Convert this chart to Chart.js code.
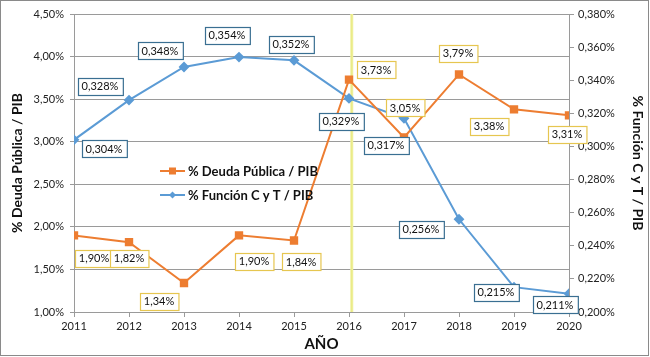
<!DOCTYPE html>
<html><head><meta charset="utf-8">
<script src="https://cdn.jsdelivr.net/npm/chart.js@4"></script>
<style>html,body{margin:0;padding:0;background:#fff;}canvas{display:block}</style>
</head><body>
<canvas id="c" width="650" height="357"></canvas>
<script>
// ---- data ----
const years = [2011, 2012, 2013, 2014, 2015, 2016, 2017, 2018, 2019, 2020];
const deudaPIB = [1.90, 1.82, 1.34, 1.90, 1.84, 3.73, 3.05, 3.79, 3.38, 3.31];
const funcionPIB = [0.304, 0.328, 0.348, 0.354, 0.352, 0.329, 0.317, 0.256, 0.215, 0.211];
const leftRange = [1.00, 4.50, 0.50];
const rightRange = [0.200, 0.380, 0.020];
const markerYear = 2016.05;
const seriesNames = ['% Deuda Pública / PIB', '% Función C y T / PIB'];

// ---- style ----
const ORANGE = '#ED7D31', BLUE = '#5B9BD5';
const deudaLabelOffsets = [[20,23],[0,16],[-25,18],[15,26],[7,21],[27,-10],[1,-30],[-1,-21],[-25,17],[-2,19]];
const funcionLabelOffsets = [[30,9],[-29,-14],[-24,-16],[-12,-22],[-3,-16],[-8,23],[-18,27],[-38,10],[-18,5],[-14,11]];
const FONT = 'Lato, "Liberation Sans", sans-serif';
Chart.defaults.font.family = FONT;
Chart.defaults.color = '#222';

const fmt = (v, d) => v.toFixed(d).replace('.', ',') + '%';

const decor = {
  id: 'decor',
  beforeDatasetsDraw(chart) {
    const {ctx, chartArea: a, scales: {x}} = chart;
    const px = x.getPixelForValue(markerYear);
    ctx.save();
    ctx.strokeStyle = '#F0F0A0';
    ctx.lineWidth = 3;
    ctx.beginPath(); ctx.moveTo(px, a.top); ctx.lineTo(px, a.bottom); ctx.stroke();
    ctx.strokeStyle = '#E8EA80';
    ctx.lineWidth = 1;
    ctx.beginPath(); ctx.moveTo(px, a.top); ctx.lineTo(px, a.bottom); ctx.stroke();
    ctx.restore();
  },
  afterDatasetsDraw(chart) {
    const ctx = chart.ctx;
    const defs = [
      {ds: 0, off: deudaLabelOffsets, border: '#E6C650', d: 2},
      {ds: 1, off: funcionLabelOffsets, border: '#3A6F92', d: 3}
    ];
    ctx.save();
    ctx.font = '11px ' + FONT;
    ctx.textAlign = 'center';
    ctx.textBaseline = 'middle';
    defs.forEach(def => {
      const meta = chart.getDatasetMeta(def.ds);
      const vals = chart.data.datasets[def.ds].data;
      meta.data.forEach((pt, i) => {
        const txt = fmt(vals[i].y, def.d);
        const cx = pt.x + def.off[i][0], cy = pt.y + def.off[i][1];
        const w = ctx.measureText(txt).width + 8, h = 17;
        const l = Math.round(cx - w / 2) + 0.5, t = Math.round(cy - h / 2) + 0.5;
        ctx.fillStyle = '#fff';
        ctx.fillRect(l, t, w, h);
        ctx.strokeStyle = def.border; ctx.lineWidth = 1.2;
        ctx.strokeRect(l, t, w, h);
        ctx.fillStyle = '#111';
        ctx.fillText(txt, cx, cy + 0.5);
      });
    });
    // legend
    const rows = [{c: ORANGE, s: 'rect', y: 171}, {c: BLUE, s: 'diamond', y: 195}];
    ctx.font = 'bold 13px ' + FONT;
    ctx.textAlign = 'left';
    rows.forEach((r, i) => {
      ctx.strokeStyle = r.c; ctx.lineWidth = 2;
      ctx.beginPath(); ctx.moveTo(160, r.y); ctx.lineTo(185, r.y); ctx.stroke();
      ctx.fillStyle = r.c;
      if (r.s === 'rect') ctx.fillRect(169, r.y - 3.5, 7, 7);
      else { ctx.beginPath(); ctx.moveTo(172.5, r.y - 3.5); ctx.lineTo(176, r.y); ctx.lineTo(172.5, r.y + 3.5); ctx.lineTo(169, r.y); ctx.closePath(); ctx.fill(); }
      ctx.fillStyle = '#111';
      ctx.fillText(seriesNames[i], 188, r.y + 0.5);
    });
    ctx.restore();
  },
  afterDraw(chart) {
    const ctx = chart.ctx;
    ctx.save();
    ctx.strokeStyle = '#8a8a8a'; ctx.lineWidth = 1;
    ctx.strokeRect(0.5, 0.5, 648, 355);
    ctx.restore();
  }
};

new Chart(document.getElementById('c'), {
  type: 'line',
  data: {
    datasets: [
      {
        label: seriesNames[0],
        data: years.map((y, i) => ({x: y, y: deudaPIB[i]})),
        yAxisID: 'y', borderColor: ORANGE, backgroundColor: ORANGE,
        borderWidth: 2, pointStyle: 'rect', pointRadius: 4.5, pointHoverRadius: 4.5,
        tension: 0
      },
      {
        label: seriesNames[1],
        data: years.map((y, i) => ({x: y, y: funcionPIB[i]})),
        yAxisID: 'y1', borderColor: BLUE, backgroundColor: BLUE,
        borderWidth: 2, pointStyle: 'rectRot', pointRadius: 4, pointHoverRadius: 4,
        tension: 0
      }
    ]
  },
  options: {
    responsive: false, animation: false, devicePixelRatio: 1,
    layout: {padding: {top: 14, left: 9, right: 4, bottom: 4}},
    plugins: {legend: {display: false}, tooltip: {enabled: false}},
    scales: {
      x: {
        type: 'linear', min: years[0], max: years[years.length - 1], offset: false,
        afterFit: s => { s.height = 41; },
        ticks: {stepSize: 1, callback: v => String(v), font: {size: 11}, padding: 3, maxRotation: 0, color: '#222'},
        grid: {drawOnChartArea: false, drawTicks: true, tickLength: 5, color: '#9a9a9a'},
        border: {color: '#9a9a9a'},
        title: {display: true, text: 'AÑO', font: {size: 15, weight: 'bold'}, color: '#111', padding: 0}
      },
      y: {
        position: 'left', min: leftRange[0], max: leftRange[1],
        afterFit: s => { s.width = 65; },
        ticks: {stepSize: leftRange[2], callback: v => fmt(v, 2), font: {size: 11}, padding: 6, color: '#222'},
        grid: {color: '#9a9a9a', tickLength: 4},
        border: {color: '#9a9a9a'},
        title: {display: true, text: seriesNames[0], font: {size: 14, weight: 'bold'}, color: '#111', padding: 0}
      },
      y1: {
        position: 'right', min: rightRange[0], max: rightRange[1],
        afterFit: s => { s.width = 77; },
        ticks: {stepSize: rightRange[2], callback: v => fmt(v, 3), font: {size: 11}, padding: 4, color: '#222'},
        grid: {drawOnChartArea: false, tickLength: 5, color: '#9a9a9a'},
        border: {color: '#9a9a9a'},
        title: {display: true, text: seriesNames[1], font: {size: 14, weight: 'bold'}, color: '#111', padding: 0}
      }
    }
  },
  plugins: [decor]
});
</script>
</body></html>
